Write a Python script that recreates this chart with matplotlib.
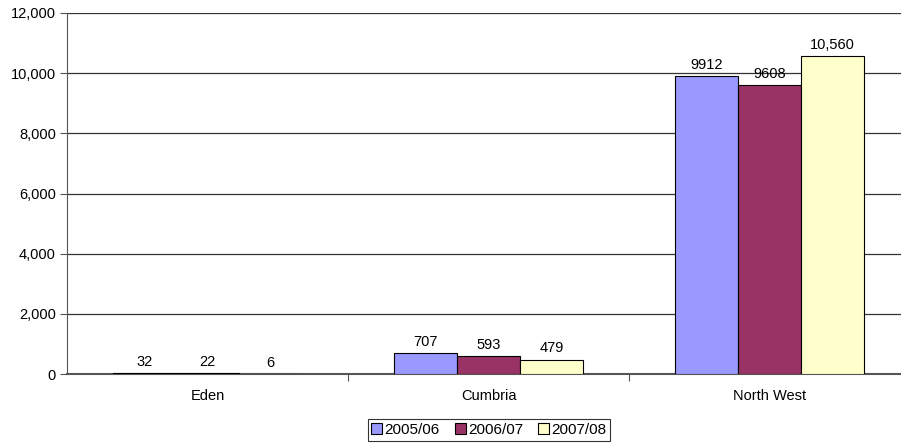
import matplotlib
matplotlib.use("Agg")
import matplotlib.pyplot as plt
import numpy as np
from matplotlib.ticker import FuncFormatter, FixedLocator

categories = ["Eden", "Cumbria", "North West"]
series_names = ["2005/06", "2006/07", "2007/08"]
v2005 = [32, 707, 9912]
v2006 = [22, 593, 9608]
v2007 = [6, 479, 10560]
labels2005 = ["32", "707", "9912"]
labels2006 = ["22", "593", "9608"]
labels2007 = ["6", "479", "10,560"]
colors = ["#9999FF", "#993366", "#FFFFCC"]

plt.rcParams['font.family'] = ['Liberation Sans', 'DejaVu Sans']
plt.rcParams['font.size'] = 10.5

fig = plt.figure(figsize=(9.01, 4.45), dpi=100)
ax = fig.add_axes([67/901, 1-374/445, (910-67)/901, (374-13)/445])

x = np.arange(len(categories))
w = 0.224
series = [v2005, v2006, v2007]
labs = [labels2005, labels2006, labels2007]
handles = []
for i, (vals, lab) in enumerate(zip(series, labs)):
    bars = ax.bar(x + (i-1)*w, vals, width=w, color=colors[i], edgecolor="black",
                  linewidth=0.8, label=series_names[i], zorder=3)
    handles.append(bars)
    for b, l in zip(bars, lab):
        ax.annotate(l, (b.get_x()+b.get_width()/2, b.get_height()),
                    xytext=(0, 3), textcoords="offset points",
                    ha="center", va="bottom", fontsize=10.5, zorder=4)

ax.set_xlim(-0.5, 2.5)
ax.set_ylim(0, 12000)
ax.set_yticks(np.arange(0, 12001, 2000))
ax.yaxis.set_major_formatter(FuncFormatter(lambda v, p: f"{int(v):,}"))
ax.yaxis.grid(True, color="#333333", linewidth=0.9, zorder=0)
ax.set_axisbelow(True)

ax.xaxis.set_major_locator(FixedLocator([0.5, 1.5]))
ax.xaxis.set_minor_locator(FixedLocator(x))
ax.set_xticklabels([], minor=False)
ax.set_xticklabels(categories, minor=True)
ax.tick_params(axis="x", which="major", length=5, direction="out", color="#555555")
ax.tick_params(axis="x", which="minor", length=0, pad=11)
ax.tick_params(axis="y", length=5, direction="out", color="#555555", pad=3)

for s in ["top", "right"]:
    ax.spines[s].set_visible(False)
ax.spines["left"].set_color("#555555")
ax.spines["bottom"].set_color("#555555")
ax.spines["bottom"].set_linewidth(1.5)

leg = fig.legend(handles=handles, labels=series_names, loc="center",
                 bbox_to_anchor=(489/901, 1-430/445), ncol=3, frameon=True,
                 fancybox=False, edgecolor="black", handlelength=0.7,
                 handleheight=0.7, handletextpad=0.15, columnspacing=1.0,
                 borderpad=0.25, fontsize=11)
leg.get_frame().set_linewidth(0.8)

fig.savefig("out.png", dpi=100)
